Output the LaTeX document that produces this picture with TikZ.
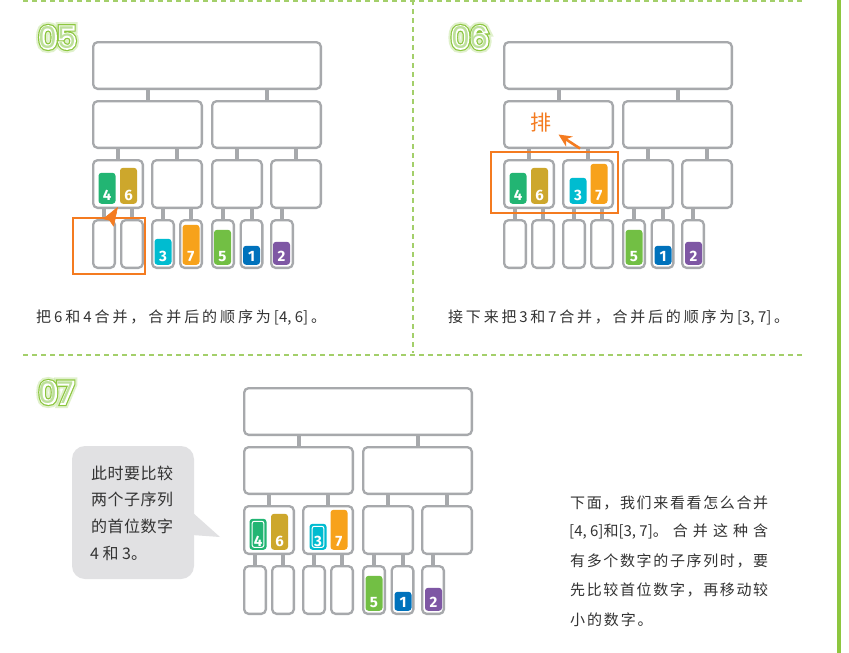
\documentclass[tikz,border=0pt]{standalone}
\usepackage{fontspec}
\setmainfont{Noto Sans CJK SC}
\newfontfamily\popfont{Poppins}
\newfontfamily\popG{Poppins}[FakeBold=30]
\newfontfamily\popE{Poppins}[FakeBold=17]
\newfontfamily\popW{Poppins}[FakeBold=9]
\newfontfamily\digfont{Fira Sans}
\usetikzlibrary{arrows.meta,calc}
\definecolor{boxgray}{HTML}{A7A9AC}
\definecolor{txtc}{HTML}{333333}
\definecolor{orng}{HTML}{F47B20}
\definecolor{lgreen}{HTML}{8DC63F}
\definecolor{lglow}{HTML}{A8D86E}
\definecolor{lfill}{HTML}{BDE09A}
\definecolor{dashgreen}{HTML}{A3CF6A}
\definecolor{bubblec}{HTML}{E1E1E3}
\definecolor{cfour}{HTML}{22B573}
\definecolor{csix}{HTML}{CDA72C}
\definecolor{cthree}{HTML}{00BCD0}
\definecolor{cseven}{HTML}{F7A21B}
\definecolor{cfive}{HTML}{72BF44}
\definecolor{cone}{HTML}{0072BC}
\definecolor{ctwo}{HTML}{7E57A4}
\newcommand\gf{\hskip 0pt plus 1fil\relax}
\tikzset{
  box/.style={draw=boxgray, line width=2.3pt, rounded corners=4.5pt, fill=white, inner sep=0pt},
  link/.style={draw=boxgray, line width=4pt},
  tile/.style={rounded corners=3pt, inner sep=0pt, minimum width=17pt, anchor=south},
  numtxt/.style={font=\digfont\bfseries\fontsize{15}{15}\selectfont, text=white, anchor=base, inner sep=0pt, yshift=3.2pt},
  hiring/.style={draw=white, line width=1pt, rounded corners=2pt, inner sep=0pt, minimum width=11.6pt, anchor=south, yshift=2.2pt},
  labsize/.style={inner sep=0pt},
  txt/.style={font=\fontsize{15}{18}\selectfont, text=txtc, inner sep=0pt},
  btxt/.style={font=\fontsize{16}{19}\selectfont, text=txtc, inner sep=0pt, anchor=west},
  hlbox/.style={draw=orng, line width=2pt, inner sep=0pt},
  ohead/.style={fill=orng, draw=orng, line width=0.6pt, line join=round},
  oarrowb/.style={draw=orng, line width=2.6pt, -{Stealth[length=13pt,width=12pt]}},
  dashline/.style={draw=dashgreen, line width=1.4pt, dash pattern=on 5pt off 4pt}
}
\newcommand\mtree[1]{%
  \node[box, minimum width=227.7pt, minimum height=46.7pt] (#1t) at (207,65.5) {};
  \node[box, minimum width=108.7pt, minimum height=46.7pt] (#1a) at (147.5,124.5) {};
  \node[box, minimum width=108.7pt, minimum height=46.7pt] (#1b) at (266.5,124.5) {};
  \foreach \n/\x in {aa/118,ab/177,ba/237,bb/296}
    \node[box, minimum width=49.7pt, minimum height=47.7pt] (#1\n) at (\x,184) {};
  \foreach \n/\x in {aaa/104,aab/132,aba/163,abb/191,baa/223,bab/251.5,bba/282}
    \node[box, minimum width=21.7pt, minimum height=47.7pt] (#1\n) at (\x,244) {};
  \foreach \c/\p in {a/t,b/t,aa/a,ab/a,ba/b,bb/b,aaa/aa,aab/aa,aba/ab,abb/ab,baa/ba,bab/ba,bba/bb}
    \draw[link] (#1\c.north) -- (#1\c.north |- #1\p.south);
}
\newcommand\mtile[6]{%
  \node[tile, fill=#5, minimum height=#4pt] (#1) at (#2,#3) {};
  \node[numtxt] (#1n) at (#1.south) {#6};
}
\newcommand\steplab[3]{%
  \node[labsize, text=lglow, opacity=0.35, font=\popG\fontsize{30}{30}\selectfont] (#1g) at (#2) {#3};
  \node[labsize, text=lgreen, font=\popE\fontsize{30}{30}\selectfont] (#1e) at (#2) {#3};
  \node[labsize, text=white, font=\popW\fontsize{30}{30}\selectfont] (#1w) at (#2) {#3};
  \node[labsize, text=lfill, font=\popfont\fontsize{30}{30}\selectfont] (#1) at (#2) {#3};
}
\begin{document}
\begin{tikzpicture}[x=1pt,y=-1pt]
\useasboundingbox[fill=white] (0,0) rectangle (849,653);
% separators
\draw[dashline] (23,1) -- (803,1);
\draw[dashline] (413,0) -- (413,353);
\draw[dashline] (23,355) -- (803,355);
\fill[lgreen] (837,0) rectangle (841,653);
% step labels
\steplab{L5}{57.5,37.5}{05}
\steplab{L6}{470,37.5}{06}
\steplab{L7}{56.5,392.5}{07}
% ---------- panel 05 ----------
\mtree{p5}
\mtile{p5four}{107}{204}{31}{cfour}{4}
\mtile{p5six}{128.5}{204}{36}{csix}{6}
\mtile{p5three}{163}{265}{26}{cthree}{3}
\mtile{p5seven}{191}{265}{40}{cseven}{7}
\mtile{p5five}{222.5}{265}{35}{cfive}{5}
\mtile{p5one}{251.5}{265}{19}{cone}{1}
\mtile{p5two}{281.5}{265}{23}{ctwo}{2}
\node[hlbox, minimum width=72pt, minimum height=56pt] (h5) at (109,246) {};
\coordinate (a5e) at (117.5,207.5);
\coordinate (a5l) at (103.5,218.8);
\coordinate (a5n) at (109.6,220.2);
\coordinate (a5r) at (113.6,226.2);
\draw[ohead] (a5e) -- (a5l) -- (a5n) -- (a5r) -- cycle;
\node[txt, anchor=west] (t5) at (36,318) {\makebox[290pt][s]{把\gf 6\gf 和\gf 4\gf 合\gf 并\gf ，\gf 合\gf 并\gf 后\gf 的\gf 顺\gf 序\gf 为\gf [4,~6]\gf 。}};
% ---------- panel 06 ----------
\begin{scope}[shift={(411,0)}]
\mtree{p6}
\mtile{p6four}{107}{204}{31}{cfour}{4}
\mtile{p6six}{128.5}{204}{36}{csix}{6}
\mtile{p6three}{167}{204}{26}{cthree}{3}
\mtile{p6seven}{188}{204}{40}{cseven}{7}
\mtile{p6five}{223}{265}{35}{cfive}{5}
\mtile{p6one}{252}{265}{19}{cone}{1}
\mtile{p6two}{282.5}{265}{23}{ctwo}{2}
\end{scope}
\node[hlbox, minimum width=127pt, minimum height=61pt] (h6) at (554.5,182.5) {};
\node[font=\fontsize{21}{21}\selectfont, text=orng, inner sep=0pt] (pai) at (540.5,122.5) {排};
\coordinate (a6s) at (580,148.5);
\coordinate (a6e) at (558.5,134.5);
\draw[oarrowb] (a6s) -- (a6e);
\node[txt, anchor=west] (t6) at (448,318) {\makebox[341pt][s]{接\gf 下\gf 来\gf 把\gf 3\gf 和\gf 7\gf 合\gf 并\gf ，\gf 合\gf 并\gf 后\gf 的\gf 顺\gf 序\gf 为\gf [3,~7]\gf 。}};
% ---------- panel 07 ----------
\begin{scope}[shift={(151,346)}]
\mtree{p7}
\mtile{p7four}{107}{204}{31}{cfour}{4}
\node[hiring, minimum height=26pt] (p7fourr) at (p7four.south) {};
\mtile{p7six}{128.5}{204}{36}{csix}{6}
\mtile{p7three}{167}{204}{26}{cthree}{3}
\node[hiring, minimum height=21pt] (p7threer) at (p7three.south) {};
\mtile{p7seven}{188}{204}{40}{cseven}{7}
\mtile{p7five}{223}{265}{35}{cfive}{5}
\mtile{p7one}{252}{265}{19}{cone}{1}
\mtile{p7two}{282.5}{265}{23}{ctwo}{2}
\end{scope}
% speech bubble
\node[fill=bubblec, rounded corners=13pt, minimum width=122pt, minimum height=133pt, inner sep=0pt] (bub) at (133,512.5) {};
\fill[bubblec] (192,512) -- (220,537) -- (192,535) -- cycle;
\node[btxt] (b1) at (91,473) {\makebox[82pt][s]{此\gf 时\gf 要\gf 比\gf 较}};
\node[btxt] (b2) at (91,499.5) {\makebox[82pt][s]{两\gf 个\gf 子\gf 序\gf 列}};
\node[btxt] (b3) at (91,526) {\makebox[82pt][s]{的\gf 首\gf 位\gf 数\gf 字}};
\node[btxt] (b4) at (90,553) {4 和 3。};
% right paragraph
\node[txt, anchor=west] (r1) at (570,503) {\makebox[198pt][s]{下\gf 面\gf ，\gf 我\gf 们\gf 来\gf 看\gf 看\gf 怎\gf 么\gf 合\gf 并}};
\node[txt, anchor=west] (r2) at (569,532) {\makebox[199pt][s]{[4,~6]和[3,~7]。\gf 合\gf 并\gf 这\gf 种\gf 含}};
\node[txt, anchor=west] (r3) at (570,561) {\makebox[198pt][s]{有\gf 多\gf 个\gf 数\gf 字\gf 的\gf 子\gf 序\gf 列\gf 时\gf ，\gf 要}};
\node[txt, anchor=west] (r4) at (570,590) {\makebox[198pt][s]{先\gf 比\gf 较\gf 首\gf 位\gf 数\gf 字\gf ，\gf 再\gf 移\gf 动\gf 较}};
\node[txt, anchor=west] (r5) at (570,620) {\makebox[82.5pt][s]{小\gf 的\gf 数\gf 字\gf 。}};
\end{tikzpicture}
\end{document}
